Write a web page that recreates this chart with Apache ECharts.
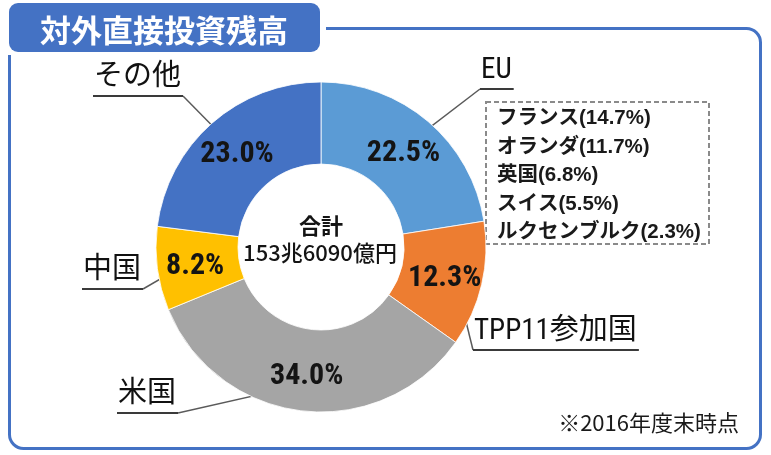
<!DOCTYPE html>
<html>
<head>
<meta charset="utf-8">
<script src="https://cdn.jsdelivr.net/npm/echarts@6/dist/echarts.min.js"></script>
<style>
  html, body { margin: 0; padding: 0; background: #fff; }
  #chart { width: 771px; height: 455px; }
</style>
</head>
<body>
<div id="chart"></div>
<script>
// Outward direct investment stock by destination (share of total, %)
const categories = ['EU', 'TPP11参加国', '米国', '中国', 'その他'];
const shares = [22.5, 12.3, 34.0, 8.2, 23.0];

// Breakdown of the EU share
const euMembers = ['フランス', 'オランダ', '英国', 'スイス', 'ルクセンブルク'];
const euShares = [14.7, 11.7, 6.8, 5.5, 2.3];

const titleText = '対外直接投資残高';
const totalLines = ['合計', '153兆6090億円'];
const noteText = '※2016年度末時点';

// ---- styling / layout ----
const sliceColors = ['#5B9BD5', '#ED7D31', '#A5A5A5', '#FFC000', '#4472C4'];
const frameColor = '#4472C4';
const NARROW = "'Roboto Condensed','Liberation Sans Narrow','Noto Sans CJK JP',sans-serif";
const CJK = "'Noto Sans CJK JP','Noto Sans',sans-serif";
const MIXED = "'Liberation Sans','Noto Sans CJK JP',sans-serif";
const CX = 321, CY = 247;

// top-left corner of each name label, and which end of its underline the leader joins
const namePlacement = {
  'EU':          { x: 480, y: 54,  join: 'left' },
  'TPP11参加国': { x: 473, y: 315, join: 'left' },
  '米国':        { x: 117, y: 378, join: 'right' },
  '中国':        { x: 82,  y: 254, join: 'right' },
  'その他':      { x: 93,  y: 61,  join: 'right' }
};
const UNDERLINE_OFFSET = 35; // underline centre, measured from the top of the label box

const chart = echarts.init(document.getElementById('chart'), null, { renderer: 'canvas' });

const option = {
  animation: false,
  series: [
    {
      // the ring itself, with the percentage in each slice
      type: 'pie',
      center: [CX, CY],
      radius: [83, 165],
      startAngle: 90,
      clockwise: true,
      avoidLabelOverlap: false,
      silent: true,
      itemStyle: { borderColor: '#ffffff', borderWidth: 0.8 },
      label: {
        show: true,
        position: 'inside',
        offset: [0, 3],
        formatter: p => p.value.toFixed(1) + '%',
        fontFamily: NARROW,
        fontWeight: 'bold',
        fontSize: 30,
        color: '#141414'
      },
      labelLine: { show: false },
      data: categories.map((name, i) => ({
        name: name,
        value: shares[i],
        itemStyle: { color: sliceColors[i] }
      }))
    },
    {
      // invisible copy of the ring, used only to anchor the underlined name labels
      type: 'pie',
      center: [CX, CY],
      radius: [0, 138],
      startAngle: 90,
      clockwise: true,
      avoidLabelOverlap: false,
      silent: true,
      itemStyle: { color: 'rgba(0,0,0,0)', borderWidth: 0 },
      label: {
        show: true,
        position: 'outside',
        formatter: p => '{n|' + p.name + '}\n{u|}',
        rich: {
          n: { fontFamily: NARROW, fontSize: 29, lineHeight: 34, color: '#111111', padding: [0, 2, 0, 1] },
          u: { width: '100%', height: 2, lineHeight: 2, backgroundColor: '#3a3a3a' }
        }
      },
      labelLine: {
        show: true,
        length: 10,
        length2: 10,
        lineStyle: { color: '#5a5a5a', width: 1.5 }
      },
      labelLayout: function (params) {
        const name = categories[params.dataIndex];
        const pl = namePlacement[name];
        const w = params.labelRect.width;
        const endX = pl.join === 'left' ? pl.x : pl.x + w;
        const endY = pl.y + UNDERLINE_OFFSET;
        const start = params.labelLinePoints ? params.labelLinePoints[0] : [endX, endY];
        return {
          x: pl.x,
          y: pl.y,
          align: 'left',
          verticalAlign: 'top',
          labelLinePoints: [start, [endX, endY], [endX, endY]]
        };
      },
      data: categories.map((name, i) => ({ name: name, value: shares[i] }))
    }
  ],
  graphic: [
    // outer rounded frame
    {
      type: 'rect',
      shape: { x: 9.5, y: 28.5, width: 751, height: 420, r: 14 },
      style: { fill: 'none', stroke: frameColor, lineWidth: 3 }
    },
    // white gap around the heading tab
    {
      type: 'rect',
      shape: { x: 3, y: 0, width: 323, height: 55 },
      style: { fill: '#ffffff' }
    },
    {
      type: 'rect',
      shape: { x: 9, y: 3, width: 311, height: 49, r: 9 },
      style: { fill: frameColor }
    },
    {
      type: 'text',
      x: 164, y: 30,
      style: {
        text: titleText,
        fill: '#ffffff',
        fontFamily: CJK,
        fontWeight: 'bold',
        fontSize: 31,
        align: 'center',
        verticalAlign: 'middle'
      }
    },
    // total in the hole of the ring
    {
      type: 'text',
      x: CX, y: 226,
      style: {
        text: totalLines[0],
        fill: '#141414',
        fontFamily: CJK,
        fontWeight: 'bold',
        fontSize: 22,
        align: 'center',
        verticalAlign: 'middle'
      }
    },
    {
      type: 'text',
      x: CX - 1, y: 253,
      style: {
        text: totalLines[1],
        fill: '#141414',
        fontFamily: CJK,
        fontWeight: 500,
        fontSize: 22,
        align: 'center',
        verticalAlign: 'middle'
      }
    },
    // EU breakdown box
    {
      type: 'rect',
      shape: { x: 486, y: 102, width: 223, height: 142 },
      style: { fill: 'none', stroke: '#8a8a8a', lineWidth: 2, lineDash: [5, 3] }
    },
    {
      type: 'text',
      x: 497, y: 104,
      style: {
        text: euMembers.map((m, i) => m + '(' + euShares[i].toFixed(1) + '%)').join('\n'),
        fill: '#1a1a1a',
        fontFamily: MIXED,
        fontWeight: 'bold',
        fontSize: 20.5,
        lineHeight: 28.6,
        align: 'left',
        verticalAlign: 'top'
      }
    },
    // footnote
    {
      type: 'text',
      x: 739, y: 423,
      style: {
        text: noteText,
        fill: '#1a1a1a',
        fontFamily: CJK,
        fontSize: 22,
        align: 'right',
        verticalAlign: 'middle'
      }
    }
  ]
};

chart.setOption(option);
</script>
</body>
</html>
